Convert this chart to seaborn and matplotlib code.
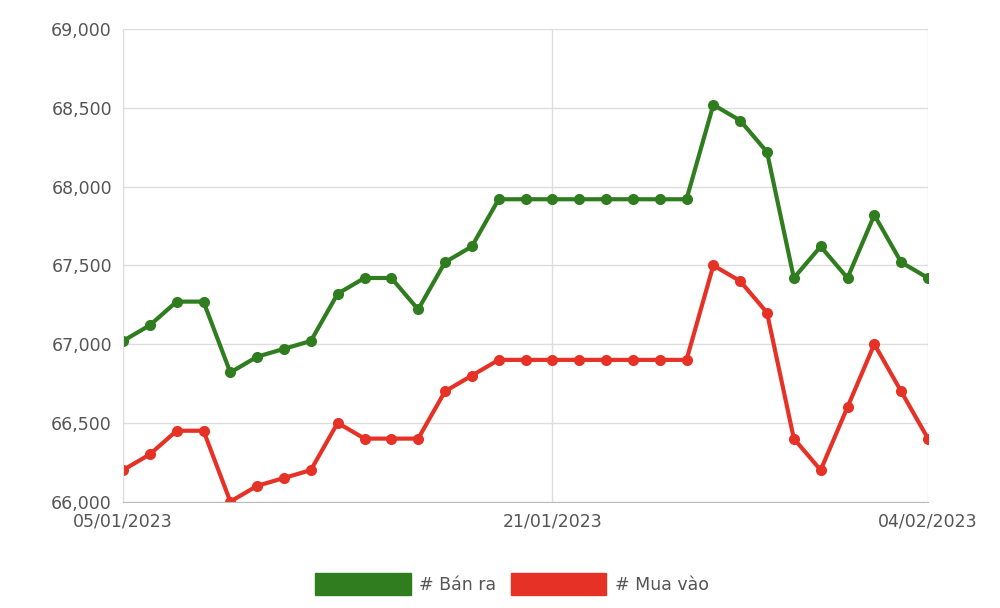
import matplotlib
matplotlib.use("Agg")
import matplotlib.pyplot as plt
import seaborn as sns
import pandas as pd
import numpy as np
from matplotlib.patches import Patch
from matplotlib.ticker import FuncFormatter

dates = pd.date_range("2023-01-05", "2023-02-04", freq="D")
ban_ra = [67020, 67120, 67270, 67270, 66820, 66920, 66970, 67020, 67320, 67420, 67420,
          67220, 67520, 67620, 67920, 67920, 67920, 67920, 67920, 67920, 67920, 67920,
          68520, 68420, 68220, 67420, 67620, 67420, 67820, 67520, 67420]
mua_vao = [66200, 66300, 66450, 66450, 66000, 66100, 66150, 66200, 66500, 66400, 66400,
           66400, 66700, 66800, 66900, 66900, 66900, 66900, 66900, 66900, 66900, 66900,
           67500, 67400, 67200, 66400, 66200, 66600, 67000, 66700, 66400]
labels = ["# Bán ra", "# Mua vào"]
colors = ["#2f7d1f", "#e63226"]

sns.set_style("white")
fig, ax = plt.subplots(figsize=(10, 6.08), dpi=100)
fig.subplots_adjust(left=0.123, right=0.928, top=0.952, bottom=0.175)
x = np.arange(len(dates))
df = pd.DataFrame({"x": np.concatenate([x, x]),
                   "v": ban_ra + mua_vao,
                   "s": [labels[0]] * len(x) + [labels[1]] * len(x)})
sns.lineplot(data=df, x="x", y="v", hue="s", palette=colors, marker="o",
             markersize=8, markeredgewidth=0, linewidth=3, ax=ax, legend=False)
ax.set_ylim(66000, 69000)
ax.set_yticks(range(66000, 69001, 500))
ax.yaxis.set_major_formatter(FuncFormatter(lambda v, p: f"{int(v):,}"))
ax.set_xlim(0, len(x) - 1)
ax.set_xticks([0, 16, 30])
ax.set_xticklabels([dates[i].strftime("%d/%m/%Y") for i in [0, 16, 30]])
ax.grid(True, color="#dddddd", linewidth=1)
for s in ["top", "right"]:
    ax.spines[s].set_visible(False)
ax.spines["left"].set_color("#dddddd")
ax.spines["bottom"].set_color("#bbbbbb")
ax.tick_params(labelsize=12.5, colors="#555555", length=0, pad=8)
ax.set_xlabel(""); ax.set_ylabel("")
handles = [Patch(color=c, label=l) for c, l in zip(colors, labels)]
fig.legend(handles=handles, loc="lower center", ncol=2, frameon=False,
           bbox_to_anchor=(0.512, -0.005), fontsize=12.5, handlelength=5.5,
           handleheight=1.6, columnspacing=0.8, handletextpad=0.5, labelcolor="#555555")
fig.savefig("out.png")
